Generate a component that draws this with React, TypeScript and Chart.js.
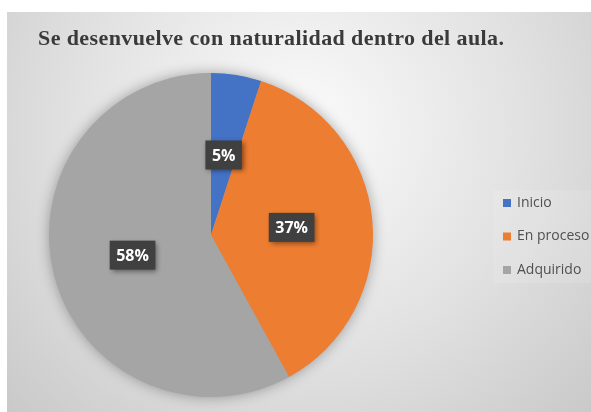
import React, { useEffect, useRef } from 'react';
import { Chart, registerables } from 'chart.js';

Chart.register(...registerables);

const chartTitle = 'Se desenvuelve con naturalidad dentro del aula.';
const categories = ['Inicio', 'En proceso', 'Adquirido'];
const values = [5, 37, 58];
const colors = ['#4472C4', '#ED7D31', '#A5A5A5'];

const W = 591;
const H = 412;

export default function App() {
  const ref = useRef<HTMLCanvasElement>(null);

  useEffect(() => {
    const canvas = ref.current;
    if (!canvas) return;

    const bgPlugin = {
      id: 'bgPlugin',
      beforeDraw(chart: any) {
        const ctx = chart.ctx;
        ctx.save();
        ctx.fillStyle = '#ffffff';
        ctx.fillRect(0, 0, W, H);
        const g = ctx.createRadialGradient(300, 130, 10, 300, 130, 430);
        g.addColorStop(0, '#fafafa');
        g.addColorStop(0.5, '#e2e2e2');
        g.addColorStop(1, '#c6c6c6');
        ctx.fillStyle = g;
        ctx.fillRect(7, 12, W - 7, H - 12);
        // legend panel
        ctx.fillStyle = 'rgba(255,255,255,0.12)';
        ctx.fillRect(493, 190, W - 493, 93);
        // title
        ctx.fillStyle = '#3a3a3a';
        ctx.font = 'bold 22px "Liberation Serif", "Times New Roman", serif';
        ctx.textBaseline = 'alphabetic';
        ctx.textAlign = 'left';
        try { (ctx as any).letterSpacing = '0.4px'; } catch (e) {}
        ctx.fillText(chartTitle, 38, 45);
        try { (ctx as any).letterSpacing = '0px'; } catch (e) {}
        // legend
        const labels = chart.data.labels as string[];
        const bg = chart.data.datasets[0].backgroundColor as string[];
        ctx.font = '14px "Open Sans", sans-serif';
        ctx.textBaseline = 'middle';
        labels.forEach((lab, i) => {
          const cy = 203 + i * 33.5;
          ctx.fillStyle = bg[i];
          ctx.fillRect(503, cy - 4, 8, 8);
          ctx.fillStyle = '#505050';
          ctx.fillText(lab, 517, cy);
        });
        ctx.restore();
      },
    };

    const shadowPlugin = {
      id: 'shadowPlugin',
      beforeDatasetsDraw(chart: any) {
        const meta = chart.getDatasetMeta(0);
        const arc = meta.data[0];
        if (!arc) return;
        const ctx = chart.ctx;
        ctx.save();
        ctx.shadowColor = 'rgba(0,0,0,0.35)';
        ctx.shadowBlur = 14;
        ctx.fillStyle = '#a5a5a5';
        ctx.beginPath();
        ctx.arc(arc.x, arc.y, arc.outerRadius - 0.5, 0, Math.PI * 2);
        ctx.fill();
        ctx.restore();
      },
    };

    const labelPlugin = {
      id: 'labelPlugin',
      afterDatasetsDraw(chart: any) {
        const meta = chart.getDatasetMeta(0);
        const data = chart.data.datasets[0].data as number[];
        const total = data.reduce((a, b) => a + b, 0);
        const ctx = chart.ctx;
        meta.data.forEach((arc: any, i: number) => {
          const p = arc.tooltipPosition(true);
          const txt = Math.round((data[i] / total) * 100) + '%';
          ctx.save();
          ctx.font = 'bold 16px "Open Sans", sans-serif';
          const tw = ctx.measureText(txt).width;
          const bw = tw + 13;
          const bh = 29;
          ctx.shadowColor = 'rgba(0,0,0,0.45)';
          ctx.shadowBlur = 5;
          ctx.shadowOffsetX = 2;
          ctx.shadowOffsetY = 2;
          ctx.fillStyle = '#404040';
          ctx.fillRect(p.x - bw / 2, p.y - bh / 2, bw, bh);
          ctx.shadowColor = 'transparent';
          ctx.shadowBlur = 0;
          ctx.shadowOffsetX = 0;
          ctx.shadowOffsetY = 0;
          ctx.fillStyle = '#ffffff';
          ctx.textAlign = 'center';
          ctx.textBaseline = 'middle';
          ctx.fillText(txt, p.x, p.y + 1);
          ctx.restore();
        });
      },
    };

    const chart = new Chart(canvas, {
      type: 'pie',
      data: {
        labels: categories,
        datasets: [
          {
            data: values,
            backgroundColor: colors,
            borderWidth: 0,
          },
        ],
      },
      options: {
        responsive: false,
        animation: false,
        devicePixelRatio: 1,
        layout: { padding: { left: 49, top: 73, right: 218, bottom: 15 } },
        plugins: {
          legend: { display: false },
          title: { display: false },
          tooltip: { enabled: false },
        },
      },
      plugins: [bgPlugin, shadowPlugin, labelPlugin],
    });

    return () => chart.destroy();
  }, []);

  return (
    <div style={{ position: 'fixed', left: 0, top: 0, width: W, height: H }}>
      <canvas ref={ref} width={W} height={H} style={{ display: 'block', width: W, height: H }} />
    </div>
  );
}
